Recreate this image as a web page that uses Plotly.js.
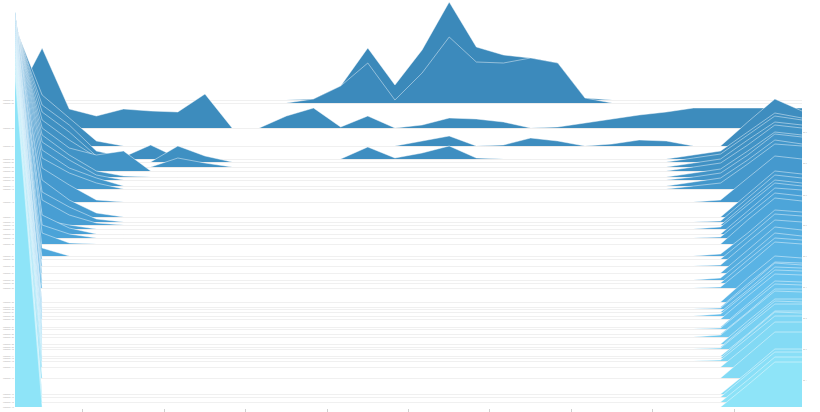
<!DOCTYPE html>
<html>
<head>
<meta charset="utf-8">
<script src="https://cdn.plot.ly/plotly-3.0.1.min.js"></script>
<style>
html,body{margin:0;padding:0;background:#fff;}
#chart{width:820px;height:412px;}
</style>
</head>
<body>
<div id="chart"></div>
<script>
// x positions (30 periods)
const periods = [0,1,2,3,4,5,6,7,8,9,10,11,12,13,14,15,16,17,18,19,20,21,22,23,24,25,26,27,28,29];
const xTicks = [2.5,5.5,8.5,11.5,14.5,17.5,20.5,23.5,26.5];

const rowNames = ['Category 01','Category 02','Category 03','Category 04','Category 05','Category 06','Category 07',
  'Category 08','Category 09','Category 10','Category 11','Category 12','Category 13','Category 14','Category 15',
  'Category 16','Category 17','Category 18','Category 19','Category 20','Category 21','Category 22','Category 23',
  'Category 24','Category 25','Category 26','Category 27','Category 28','Category 29','Category 30','Category 31',
  'Category 32','Category 33','Category 34','Category 35','Category 36','Category 37','Category 38','Category 39',
  'Category 40','Category 41','Category 42','Category 43','Category 44','Category 45','Category 46','Category 47',
  'Category 48','Category 49'];

// row offsets (ridge baselines)
const baselines = [308,305,280,262,249,246,241,237,231,228,222,219,206,191,186,183,179,174,170,164,
  152,149,142,135,128,125,120,106,101,99,96,92,89,81,79,74,71,64,61,59,52,50,47,41,30,14,11,6,1];

const rightTicks = [276,245,213,183,152,121,90,59,28];
const rightTickText = ['9','8','7','6','5','4','3','2','1'];

const s00 = [0,0,0,0,0,0,0,0,0,0, 0,1,14,52,15,50,98,53,45,42, 37,2,0,0,0,0,0,0,0,0];
const s01 = [0,0,0,0,0,0,0,0,0,0, 0,4,17,40,3,30,66,41,40,45, 40,5,0,0,0,0,0,0,0,0];
const s02 = [28,80,19,12,19,17,16,34,0,0, 12,20,1,12,0,3,10,9,6,0, 1,5,9,13,16,20,20,20,20,20];
const s03 = [120,51,28,5,0,0,0,0,0,0, 0,0,0,0,0,5,10,0,1,8, 5,0,2,6,5,0,0,24,47,35];
const s04 = [135,54,34,8,2,14,1,0,0,0, 0,0,0,12,1,6,13,1,0,0, 0,0,0,0,0,4,8,27,46,41];
const s05 = [140,50,30,6,0,0,16,6,0,0, 0,0,0,0,0,0,0,0,0,0, 0,0,0,0,0,4,8,27,46,42];
const s06 = [146,47,27,10,0,0,9,4,0,0, 0,0,0,0,0,0,0,0,0,0, 0,0,0,0,0,4,8,27,45,42];
const s07 = [151,43,23,16,20,0,0,0,0,0, 0,0,0,0,0,0,0,0,0,0, 0,0,0,0,0,4,8,26,46,43];
const s08 = [158,42,22,6,1,0,0,0,0,0, 0,0,0,0,0,0,0,0,0,0, 0,0,0,0,0,4,8,26,45,42];
const s09 = [162,38,20,5,0,0,0,0,0,0, 0,0,0,0,0,0,0,0,0,0, 0,0,0,0,0,3,7,25,46,43];
const s10 = [169,36,18,8,0,0,0,0,0,0, 0,0,0,0,0,0,0,0,0,0, 0,0,0,0,0,4,8,26,46,42];
const s11 = [173,31,16,6,0,0,0,0,0,0, 0,0,0,0,0,0,0,0,0,0, 0,0,0,0,0,3,6,25,45,43];
const s12 = [187,34,17,2,0,0,0,0,0,0, 0,0,0,0,0,0,0,0,0,0, 0,0,0,0,0,0,2,24,46,43];
const s13 = [203,37,17,4,0,0,0,0,0,0, 0,0,0,0,0,0,0,0,0,0, 0,0,0,0,0,0,0,23,46,43];
const s14 = [208,30,15,3,0,0,0,0,0,0, 0,0,0,0,0,0,0,0,0,0, 0,0,0,0,0,0,1,24,47,44];
const s15 = [212,25,10,2,0,0,0,0,0,0, 0,0,0,0,0,0,0,0,0,0, 0,0,0,0,0,0,0,23,45,42];
const s16 = [216,9,4,0,0,0,0,0,0,0, 0,0,0,0,0,0,0,0,0,0, 0,0,0,0,0,0,2,24,46,43];
const s17 = [222,19,6,0,0,0,0,0,0,0, 0,0,0,0,0,0,0,0,0,0, 0,0,0,0,0,0,0,23,46,44];
const s18 = [226,13,4,0,0,0,0,0,0,0, 0,0,0,0,0,0,0,0,0,0, 0,0,0,0,0,0,1,23,45,42];
const s19 = [232,11,1,0,0,0,0,0,0,0, 0,0,0,0,0,0,0,0,0,0, 0,0,0,0,0,0,0,24,46,43];
const s20 = [242,8,0,0,0,0,0,0,0,0, 0,0,0,0,0,0,0,0,0,0, 0,0,0,0,0,0,2,23,46,44];
const s21 = [244,0,0,0,0,0,0,0,0,0, 0,0,0,0,0,0,0,0,0,0, 0,0,0,0,0,0,0,22,45,43];
const s22 = [250,0,0,0,0,0,0,0,0,0, 0,0,0,0,0,0,0,0,0,0, 0,0,0,0,0,0,1,24,46,44];
const s23 = [256,0,0,0,0,0,0,0,0,0, 0,0,0,0,0,0,0,0,0,0, 0,0,0,0,0,0,0,23,46,43];
const s24 = [262,0,0,0,0,0,0,0,0,0, 0,0,0,0,0,0,0,0,0,0, 0,0,0,0,0,0,2,24,47,44];
const s25 = [264,0,0,0,0,0,0,0,0,0, 0,0,0,0,0,0,0,0,0,0, 0,0,0,0,0,0,0,23,45,43];
const s26 = [268,0,0,0,0,0,0,0,0,0, 0,0,0,0,0,0,0,0,0,0, 0,0,0,0,0,0,1,23,46,44];
const s27 = [280,0,0,0,0,0,0,0,0,0, 0,0,0,0,0,0,0,0,0,0, 0,0,0,0,0,0,0,24,46,44];
const s28 = [283,0,0,0,0,0,0,0,0,0, 0,0,0,0,0,0,0,0,0,0, 0,0,0,0,0,0,0,23,45,44];
const s29 = [283,0,0,0,0,0,0,0,0,0, 0,0,0,0,0,0,0,0,0,0, 0,0,0,0,0,0,1,23,46,44];
const s30 = [284,0,0,0,0,0,0,0,0,0, 0,0,0,0,0,0,0,0,0,0, 0,0,0,0,0,0,0,22,45,44];
const s31 = [286,0,0,0,0,0,0,0,0,0, 0,0,0,0,0,0,0,0,0,0, 0,0,0,0,0,0,2,24,46,45];
const s32 = [287,0,0,0,0,0,0,0,0,0, 0,0,0,0,0,0,0,0,0,0, 0,0,0,0,0,0,0,23,45,44];
const s33 = [293,0,0,0,0,0,0,0,0,0, 0,0,0,0,0,0,0,0,0,0, 0,0,0,0,0,0,0,23,46,45];
const s34 = [293,0,0,0,0,0,0,0,0,0, 0,0,0,0,0,0,0,0,0,0, 0,0,0,0,0,0,1,23,45,44];
const s35 = [296,0,0,0,0,0,0,0,0,0, 0,0,0,0,0,0,0,0,0,0, 0,0,0,0,0,0,0,22,45,45];
const s36 = [297,0,0,0,0,0,0,0,0,0, 0,0,0,0,0,0,0,0,0,0, 0,0,0,0,0,0,2,24,46,45];
const s37 = [302,0,0,0,0,0,0,0,0,0, 0,0,0,0,0,0,0,0,0,0, 0,0,0,0,0,0,0,23,45,45];
const s38 = [303,0,0,0,0,0,0,0,0,0, 0,0,0,0,0,0,0,0,0,0, 0,0,0,0,0,0,0,23,46,45];
const s39 = [303,0,0,0,0,0,0,0,0,0, 0,0,0,0,0,0,0,0,0,0, 0,0,0,0,0,0,1,23,45,45];
const s40 = [308,0,0,0,0,0,0,0,0,0, 0,0,0,0,0,0,0,0,0,0, 0,0,0,0,0,0,0,22,45,45];
const s41 = [308,0,0,0,0,0,0,0,0,0, 0,0,0,0,0,0,0,0,0,0, 0,0,0,0,0,0,0,23,46,45];
const s42 = [308,0,0,0,0,0,0,0,0,0, 0,0,0,0,0,0,0,0,0,0, 0,0,0,0,0,0,1,23,45,45];
const s43 = [311,0,0,0,0,0,0,0,0,0, 0,0,0,0,0,0,0,0,0,0, 0,0,0,0,0,0,0,22,45,45];
const s44 = [319,0,0,0,0,0,0,0,0,0, 0,0,0,0,0,0,0,0,0,0, 0,0,0,0,0,0,0,23,46,46];
const s45 = [332,0,0,0,0,0,0,0,0,0, 0,0,0,0,0,0,0,0,0,0, 0,0,0,0,0,0,0,22,45,45];
const s46 = [331,0,0,0,0,0,0,0,0,0, 0,0,0,0,0,0,0,0,0,0, 0,0,0,0,0,0,0,23,45,45];
const s47 = [332,0,0,0,0,0,0,0,0,0, 0,0,0,0,0,0,0,0,0,0, 0,0,0,0,0,0,0,22,45,45];
const s48 = [332,0,0,0,0,0,0,0,0,0, 0,0,0,0,0,0,0,0,0,0, 0,0,0,0,0,0,0,22,45,45];

const series = [s00,s01,s02,s03,s04,s05,s06,s07,s08,s09,s10,s11,s12,s13,s14,s15,s16,s17,s18,s19,
  s20,s21,s22,s23,s24,s25,s26,s27,s28,s29,s30,s31,s32,s33,s34,s35,s36,s37,s38,s39,
  s40,s41,s42,s43,s44,s45,s46,s47,s48];

// colour ramp (dark steel blue -> light cyan)
const stops = [[0,[59,137,186]],[0.35,[73,160,214]],[0.65,[100,190,236]],[1,[142,228,248]]];
function rampColor(t){
  for(let k=1;k<stops.length;k++){
    if(t<=stops[k][0]){
      const a=stops[k-1], b=stops[k];
      const f=(t-a[0])/(b[0]-a[0]);
      const c=a[1].map((v,j)=>Math.round(v+(b[1][j]-v)*f));
      return 'rgb('+c.join(',')+')';
    }
  }
  return 'rgb(142,228,248)';
}

const traces = [];
series.forEach((vals,i)=>{
  const base = baselines[i];
  traces.push({
    x: periods, y: periods.map(()=>base), type:'scatter', mode:'lines',
    line:{width:0, color:'rgba(0,0,0,0)'}, hoverinfo:'skip', showlegend:false
  });
  traces.push({
    x: periods, y: vals.map(v=>base+v), type:'scatter', mode:'lines',
    name: rowNames[i], fill:'tonexty', fillcolor: rampColor(i/(series.length-1)),
    line:{width:1, color:'rgba(255,255,255,0.45)'}, showlegend:false
  });
});
// carrier for the right-hand axis
traces.push({x:[periods[0]], y:[rightTicks[0]], yaxis:'y2', type:'scatter', mode:'markers',
  marker:{opacity:0, size:1}, hoverinfo:'skip', showlegend:false});

const layout = {
  width:820, height:412,
  margin:{l:15, r:18, t:0, b:4, pad:0},
  paper_bgcolor:'#fff', plot_bgcolor:'#fff',
  showlegend:false,
  xaxis:{
    range:[0,29], showgrid:false, zeroline:false, showline:false,
    tickvals:xTicks, ticks:'outside', ticklen:3, tickwidth:1, tickcolor:'#d0d0d0',
    showticklabels:false
  },
  yaxis:{
    range:[0,408], showgrid:true, gridcolor:'#ececec', gridwidth:1, zeroline:false, showline:false,
    tickvals:baselines, ticktext:rowNames, ticks:'',
    tickfont:{family:'Open Sans, sans-serif', size:2, color:'#aaa'}
  },
  yaxis2:{
    overlaying:'y', side:'right', range:[0,408], showgrid:false, zeroline:false, showline:false,
    tickvals:rightTicks, ticktext:rightTickText, ticks:'outside', ticklen:2, tickcolor:'#ddd',
    tickfont:{family:'Open Sans, sans-serif', size:2, color:'#aaa'}
  }
};

Plotly.newPlot('chart', traces, layout, {displayModeBar:false, staticPlot:true});
</script>
</body>
</html>
